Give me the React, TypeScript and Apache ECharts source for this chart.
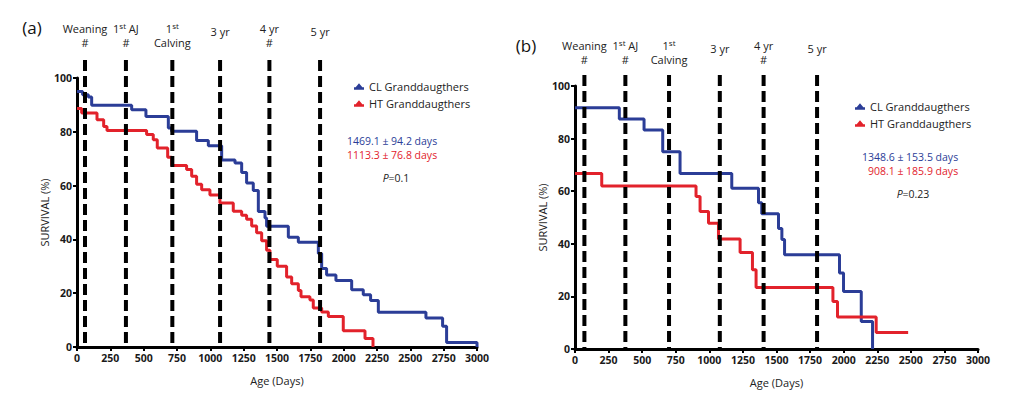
import React, { useEffect, useRef } from "react";
import * as echarts from "echarts";

// ---------- data ----------
const seriesNames = ["CL Granddaugthers", "HT Granddaugthers"];

// Panel (a) Kaplan-Meier steps [day, survival %]
const clA: number[][] = [
  [0, 95], [42, 93.8], [85, 92.9], [110, 89.9], [410, 88.2], [517, 85.7], [685, 81.4], [710, 80.2],
  [897, 76.8], [985, 74.8], [1085, 69.5], [1185, 68.4], [1235, 64.9], [1272, 61], [1322, 58.2],
  [1360, 50.4], [1410, 48], [1422, 44.9], [1585, 40.8], [1660, 38.9], [1810, 34.8], [1835, 29.2],
  [1872, 26.8], [1942, 24.7], [2060, 21.3], [2147, 19.4], [2202, 17.3], [2260, 12.9], [2617, 10.8],
  [2742, 7.7], [2772, 1.7], [3000, 0],
];
const htA: number[][] = [
  [0, 88.7], [35, 87], [150, 84.5], [200, 82], [225, 80.5], [522, 79], [572, 77], [602, 74],
  [680, 70.5], [710, 67.5], [822, 66], [860, 63.5], [897, 60.5], [935, 58.5], [997, 56.5],
  [1072, 53.5], [1172, 50.5], [1235, 49], [1272, 47.5], [1310, 45], [1347, 42.5], [1385, 39.5],
  [1422, 36], [1447, 32.5], [1502, 30], [1572, 26], [1610, 23.5], [1660, 21], [1680, 18.7],
  [1747, 17.5], [1772, 14.5], [1835, 13], [1885, 11.3], [1997, 6], [2160, 3.2], [2220, 0],
];
// Panel (b)
const clB: number[][] = [
  [0, 91.7], [330, 87.5], [514, 83.3], [653, 75], [782, 66.7], [1167, 61.1], [1366, 55.6],
  [1390, 51.4], [1515, 45.8], [1540, 41.6], [1560, 35.8], [1969, 28.9], [1999, 21.9],
  [2131, 10.5], [2215, 0],
];
const htB: number[][] = [
  [0, 66.7], [199, 62], [901, 58], [931, 52.3], [994, 47.8], [1068, 41.8], [1229, 36.7],
  [1321, 30.1], [1348, 23.4], [1920, 18.1], [1954, 12.2], [2242, 6.3], [2480, 6.3],
];

// Milestone days (dashed verticals)
const milestonesA = [60, 367, 715, 1073, 1443, 1823];
const milestonesB = [70, 375, 700, 1078, 1404, 1802];
const dashTopA = 106.7;
const dashTopB = 104.2;

const milestoneLabels = ["Weaning\n#", "1{s|st} AJ\n#", "1{s|st}\nCalving", "3 yr", "4 yr\n#", "5 yr"];

const statsA = ["1469.1 ± 94.2 days", "1113.3 ± 76.8 days", "=0.1"];
const statsB = ["1348.6 ± 153.5 days", "908.1 ± 185.9 days", "=0.23"];

const BLUE = "#2b3d97";
const RED = "#e2222b";
const FONT = "Open Sans";

export default function App() {
  const ref = useRef<HTMLDivElement>(null);
  useEffect(() => {
    if (!ref.current) return;
    const chart = echarts.init(ref.current, null, { renderer: "svg" });

    const axisCommon = {
      axisLine: { show: true, lineStyle: { color: "#000", width: 3 } },
      axisTick: { show: true, length: 4, lineStyle: { color: "#000", width: 2 } },
      splitLine: { show: false },
    };
    const tickLabel = {
      fontSize: 10.5,
      color: "#1a1a1a",
      fontFamily: FONT,
      fontWeight: "bold",
      margin: 5,
      formatter: (v: number) => String(v),
    };
    const xAxis = (gi: number) => ({
      type: "value",
      gridIndex: gi,
      min: 0,
      max: 3000,
      interval: 250,
      ...axisCommon,
      axisLabel: tickLabel,
      name: "Age (Days)",
      nameLocation: "middle",
      nameGap: 28,
      nameTextStyle: { fontSize: 11, color: "#222", fontFamily: FONT },
    });
    const yAxis = (gi: number) => ({
      type: "value",
      gridIndex: gi,
      min: 0,
      max: 100,
      interval: 20,
      ...axisCommon,
      axisLabel: tickLabel,
      name: "SURVIVAL (%)",
      nameLocation: "middle",
      nameRotate: 90,
      nameGap: 22,
      nameTextStyle: { fontSize: 11, color: "#222", fontFamily: FONT },
    });

    const km = (name: string, data: number[][], color: string, gi: number) => ({
      type: "line",
      name,
      xAxisIndex: gi,
      yAxisIndex: gi,
      data,
      step: "end",
      showSymbol: false,
      symbol: "none",
      lineStyle: { color, width: 3 },
      itemStyle: { color },
      z: 3,
    });
    const dash = (x: number, top: number, gi: number) => ({
      type: "line",
      xAxisIndex: gi,
      yAxisIndex: gi,
      data: [[x, top], [x, 0]],
      showSymbol: false,
      symbol: "none",
      clip: false,
      silent: true,
      lineStyle: { color: "#000", width: 4, type: [11, 5] },
      z: 4,
    });

    const legendIcon = "path://M6,0L10,5L12,5L12,8L0,8L0,5L2,5Z";
    const legend = (left: number, top: number) => ({
      data: seriesNames,
      orient: "vertical",
      left,
      top,
      itemWidth: 10,
      itemHeight: 7,
      itemGap: 6,
      icon: legendIcon,
      textStyle: { fontSize: 11, color: "#222", fontFamily: FONT },
    });

    const labelTexts = (xs: number[], pxPerDay: number, x0: number, yBase: number) =>
      xs.map((d, i) => {
        const two = milestoneLabels[i].includes("\n");
        return {
          type: "text",
          x: x0 + d * pxPerDay,
          y: two ? yBase : yBase + 3,
          style: {
            text: milestoneLabels[i],
            align: "center",
            verticalAlign: "top",
            fontSize: 11,
            lineHeight: 14,
            fontFamily: FONT,
            fill: "#222",
            rich: { s: { fontSize: 8, verticalAlign: "top", lineHeight: 14, fill: "#222", fontFamily: FONT } },
          },
        };
      });

    const stat = (x: number, y: number, text: string, color: string) => ({
      type: "text",
      x,
      y,
      style: { text, align: "center", verticalAlign: "middle", fontSize: 10.5, fontFamily: FONT, fill: color },
    });
    const pval = (x: number, y: number, text: string) => ({
      type: "text",
      x,
      y,
      style: {
        text: "{i|P}" + text,
        align: "center",
        verticalAlign: "middle",
        fontSize: 10.5,
        fontFamily: FONT,
        fill: "#222",
        rich: { i: { fontStyle: "italic", fontSize: 10.5, fontFamily: FONT, fill: "#222" } },
      },
    });

    chart.setOption({
      animation: false,
      grid: [
        { left: 77, top: 78, width: 400, height: 269 },
        { left: 575, top: 86, width: 403, height: 263 },
      ],
      xAxis: [xAxis(0), xAxis(1)],
      yAxis: [yAxis(0), yAxis(1)],
      legend: [legend(349, 76), legend(850, 96)],
      series: [
        km(seriesNames[0], clA, BLUE, 0),
        km(seriesNames[1], htA, RED, 0),
        km(seriesNames[0], clB, BLUE, 1),
        km(seriesNames[1], htB, RED, 1),
        ...milestonesA.map((x) => dash(x, dashTopA, 0)),
        ...milestonesB.map((x) => dash(x, dashTopB, 1)),
      ],
      graphic: [
        { type: "text", x: 32, y: 27, style: { text: "(a)", align: "center", verticalAlign: "middle", fontSize: 17, fontFamily: FONT, fill: "#111" } },
        { type: "text", x: 526, y: 45, style: { text: "(b)", align: "center", verticalAlign: "middle", fontSize: 17, fontFamily: FONT, fill: "#111" } },
        ...labelTexts(milestonesA, 400 / 3000, 77, 21),
        ...labelTexts(milestonesB, 403 / 3000, 575, 38),
        stat(392, 141, statsA[0], BLUE),
        stat(392, 155, statsA[1], RED),
        pval(396, 178, statsA[2]),
        stat(910, 157, statsB[0], BLUE),
        stat(913, 171, statsB[1], RED),
        pval(913, 194, statsB[2]),
      ],
    });
    return () => chart.dispose();
  }, []);
  return <div ref={ref} style={{ position: "absolute", left: 0, top: 0, width: 1024, height: 399 }} />;
}
